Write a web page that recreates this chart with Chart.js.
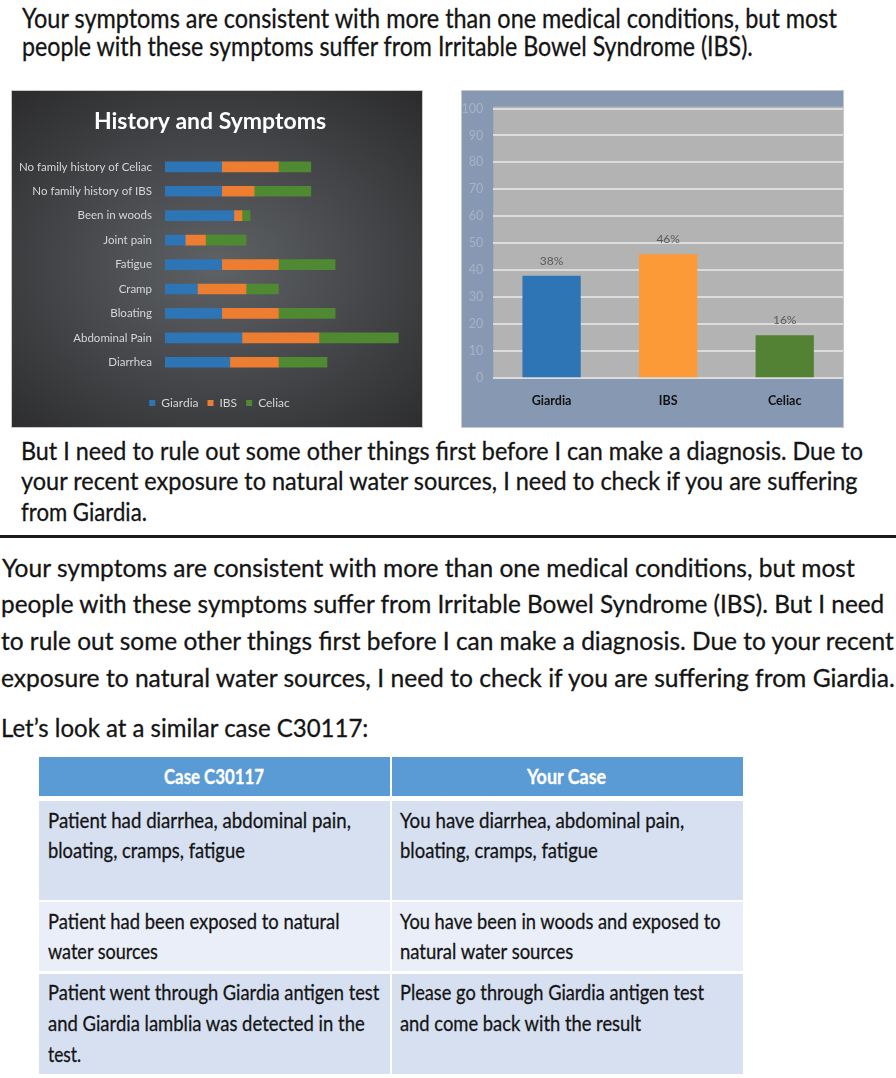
<!DOCTYPE html>
<html>
<head>
<meta charset="utf-8">
<title>History and Symptoms</title>
<script src="https://cdn.jsdelivr.net/npm/chart.js@4.4.1/dist/chart.umd.min.js"></script>
<style>
  body { margin: 0; background: #fff; }
  #page { position: relative; width: 896px; height: 1078px; overflow: hidden; font-family: Lato, sans-serif; color: #141414; }
  .ln { position: absolute; white-space: nowrap; line-height: 1.2; transform-origin: 0 0; -webkit-text-stroke: 0.3px currentColor; }
  .box { position: absolute; }
  #historyBox {
    left: 12px; top: 91px; width: 410px; height: 336px;
    background: radial-gradient(ellipse 75% 70% at 50% 52%, #5f6265 0%, #47494c 45%, #2b2b2c 100%);
    outline: 1px solid #c8c8c8;
  }
  #oddsBox {
    left: 462px; top: 91px; width: 381px; height: 336px;
    background: #8799b2;
    outline: 1px solid #c8c8c8;
  }
  .rule { position: absolute; left: 0; top: 535px; width: 896px; height: 3px; background: #1b1b1b; }
  .cell { position: absolute; }
  .head { background: #5b9bd5; }
  .rowA { background: #d6e0f1; }
  .rowB { background: #e9eef8; }
</style>
</head>
<body>
<div id="page">

  <div class="ln" style="left:21.7px;top:1.7px;font-size:27px" data-w="815">Your symptoms are consistent with more than one medical conditions, but most</div>
  <div class="ln" style="left:21.7px;top:30px;font-size:27px" data-w="731">people with these symptoms suffer from Irritable Bowel Syndrome (IBS).</div>

  <div class="box" id="historyBox"><canvas id="historyChart"></canvas></div>
  <div class="box" id="oddsBox"><canvas id="oddsChart"></canvas></div>

  <div class="ln" style="left:20.7px;top:434.8px;font-size:25.5px" data-w="842">But I need to rule out some other things first before I can make a diagnosis. Due to</div>
  <div class="ln" style="left:20.7px;top:465.3px;font-size:25.5px" data-w="837">your recent exposure to natural water sources, I need to check if you are suffering</div>
  <div class="ln" style="left:20.7px;top:496.3px;font-size:25.5px" data-w="126">from Giardia.</div>

  <div class="rule"></div>

  <div class="ln" style="left:1.5px;top:551.5px;font-size:25.5px" data-w="853">Your symptoms are consistent with more than one medical conditions, but most</div>
  <div class="ln" style="left:1px;top:588.3px;font-size:25.5px" data-w="883">people with these symptoms suffer from Irritable Bowel Syndrome (IBS). But I need</div>
  <div class="ln" style="left:0.7px;top:625.1px;font-size:25.5px" data-w="893">to rule out some other things first before I can make a diagnosis. Due to your recent</div>
  <div class="ln" style="left:1px;top:661.8px;font-size:25.5px" data-w="894">exposure to natural water sources, I need to check if you are suffering from Giardia.</div>
  <div class="ln" style="left:1px;top:712.3px;font-size:25.5px" data-w="367">Let’s look at a similar case C30117:</div>

  <!-- case table -->
  <div class="cell head" style="left:39.3px;top:757.3px;width:350.7px;height:38.4px"></div>
  <div class="cell head" style="left:392px;top:757.3px;width:350.7px;height:38.4px"></div>
  <div class="cell rowA" style="left:39.3px;top:800.7px;width:350.7px;height:99px"></div>
  <div class="cell rowA" style="left:392px;top:800.7px;width:350.7px;height:99px"></div>
  <div class="cell rowB" style="left:39.3px;top:901.5px;width:350.7px;height:69.5px"></div>
  <div class="cell rowB" style="left:392px;top:901.5px;width:350.7px;height:69.5px"></div>
  <div class="cell rowA" style="left:39.3px;top:974px;width:350.7px;height:100px"></div>
  <div class="cell rowA" style="left:392px;top:974px;width:350.7px;height:100px"></div>

  <div class="ln" style="left:164.3px;top:764.3px;font-size:20px;font-weight:bold;color:#fff" data-w="100">Case C30117</div>
  <div class="ln" style="left:526.7px;top:764.3px;font-size:20px;font-weight:bold;color:#fff" data-w="79">Your Case</div>

  <div class="ln" style="left:48.3px;top:807.3px;font-size:22px" data-w="303">Patient had diarrhea, abdominal pain,</div>
  <div class="ln" style="left:48.3px;top:836.8px;font-size:22px" data-w="197">bloating, cramps, fatigue</div>
  <div class="ln" style="left:400px;top:807.3px;font-size:22px" data-w="284">You have diarrhea, abdominal pain,</div>
  <div class="ln" style="left:400px;top:836.8px;font-size:22px" data-w="198">bloating, cramps, fatigue</div>

  <div class="ln" style="left:48.3px;top:908px;font-size:22px" data-w="292">Patient had been exposed to natural</div>
  <div class="ln" style="left:48.3px;top:938px;font-size:22px" data-w="110">water sources</div>
  <div class="ln" style="left:400px;top:908px;font-size:22px" data-w="321">You have been in woods and exposed to</div>
  <div class="ln" style="left:400px;top:938px;font-size:22px" data-w="173">natural water sources</div>

  <div class="ln" style="left:48.3px;top:979px;font-size:22px" data-w="331">Patient went through Giardia antigen test</div>
  <div class="ln" style="left:48.3px;top:1009.6px;font-size:22px" data-w="317">and Giardia lamblia was detected in the</div>
  <div class="ln" style="left:48.3px;top:1041.3px;font-size:22px" data-w="33">test.</div>
  <div class="ln" style="left:400px;top:979px;font-size:22px" data-w="304">Please go through Giardia antigen test</div>
  <div class="ln" style="left:400px;top:1009.6px;font-size:22px" data-w="241">and come back with the result</div>
</div>

<script>
// History and Symptoms (stacked horizontal bars)
const symptomLabels = ['No family history of Celiac', 'No family history of IBS', 'Been in woods', 'Joint pain',
    'Fatigue', 'Cramp', 'Bloating', 'Abdominal Pain', 'Diarrhea'];
const giardiaScores = [7, 7, 8.5, 2.5, 7, 4, 7, 9.5, 8];
const ibsScores = [7, 4, 1, 2.5, 7, 6, 7, 9.5, 6];
const celiacScores = [4, 7, 1, 5, 7, 4, 7, 9.8, 6];

// Likelihood of each condition (%)
const conditionLabels = ['Giardia', 'IBS', 'Celiac'];
const likelihoodPct = [38, 46, 16];

Chart.defaults.font.family = 'Lato, sans-serif';

// squeeze each text line to the width it has in the picture
function fitLines() {
    document.querySelectorAll('.ln').forEach(el => {
        el.style.transform = 'none';
        const target = parseFloat(el.dataset.w);
        el.style.transform = 'scaleX(' + (target / el.offsetWidth) + ')';
    });
}
fitLines();
document.fonts.ready.then(fitLines);

// legend in the picture sits a little right of the canvas centre
const legendNudge = {
    id: 'legendNudge',
    afterLayout(chart) {
        chart.legend.left += 19;
    }
};

new Chart(document.getElementById('historyChart'), {
    type: 'bar',
    data: {
        labels: symptomLabels,
        datasets: [
            { label: 'Giardia', data: giardiaScores, backgroundColor: '#2e75b6' },
            { label: 'IBS', data: ibsScores, backgroundColor: '#ed7d31' },
            { label: 'Celiac', data: celiacScores, backgroundColor: '#4f8a32' }
        ]
    },
    options: {
        indexAxis: 'y',
        responsive: true,
        maintainAspectRatio: false,
        animation: false,
        barThickness: 10,
        layout: { padding: { left: 0, right: 14, top: 0, bottom: 8 } },
        scales: {
            x: {
                stacked: true, min: 0, max: 30,
                ticks: { display: false },
                grid: { display: false, drawTicks: false },
                border: { display: false },
                afterFit: (scale) => { scale.height = 13.5; }
            },
            y: {
                stacked: true,
                grid: { display: false, drawTicks: false },
                border: { display: false },
                ticks: { color: '#d6d6d6', font: { size: 11.5 }, padding: 13 },
                afterFit: (scale) => { scale.width = 153; }
            }
        },
        plugins: {
            title: {
                display: true,
                text: 'History and Symptoms',
                color: '#ffffff',
                font: { size: 23, weight: 'bold' },
                padding: { top: 17, bottom: 19 }
            },
            legend: {
                position: 'bottom',
                labels: { color: '#d6d6d6', font: { size: 12 }, boxWidth: 6, boxHeight: 6, padding: 9 }
            },
            tooltip: { enabled: false }
        }
    },
    plugins: [legendNudge]
});

const plotBackground = {
    id: 'plotBackground',
    beforeDraw(chart) {
        const { ctx, chartArea } = chart;
        ctx.save();
        ctx.fillStyle = '#b3b3b3';
        ctx.fillRect(chartArea.left, chartArea.top - 2, chartArea.right - chartArea.left, chartArea.bottom - chartArea.top + 2);
        ctx.restore();
    }
};

// percent label above each bar
const barValueLabels = {
    id: 'barValueLabels',
    afterDatasetsDraw(chart) {
        const ctx = chart.ctx;
        ctx.save();
        ctx.fillStyle = '#5a5a5a';
        ctx.font = '12px Lato, sans-serif';
        ctx.textAlign = 'center';
        ctx.textBaseline = 'middle';
        chart.getDatasetMeta(0).data.forEach((bar, i) => {
            ctx.fillText(likelihoodPct[i] + '%', bar.x, bar.y - 15);
        });
        ctx.restore();
    }
};

new Chart(document.getElementById('oddsChart'), {
    type: 'bar',
    data: {
        labels: conditionLabels,
        datasets: [{
            data: likelihoodPct,
            backgroundColor: ['#2e75b6', '#fb9a37', '#548235'],
            barPercentage: 0.5,
            categoryPercentage: 1
        }]
    },
    options: {
        responsive: true,
        maintainAspectRatio: false,
        animation: false,
        layout: { padding: { left: 0, right: 0, top: 17.3, bottom: 19.5 } },
        scales: {
            x: {
                grid: { display: false, drawTicks: false },
                border: { display: false },
                ticks: { color: '#111111', font: { size: 12.5, weight: 'bold' }, padding: 14.8 },
                afterFit: (scale) => { scale.height = 29.2; }
            },
            y: {
                min: 0, max: 100,
                ticks: { stepSize: 10, color: '#a7b3c5', font: { size: 12.5 }, padding: 10 },
                grid: { color: '#dcdcdc', lineWidth: 2, drawTicks: false },
                border: { display: false },
                afterFit: (scale) => { scale.width = 31.3; }
            }
        },
        plugins: {
            legend: { display: false },
            tooltip: { enabled: false }
        }
    },
    plugins: [plotBackground, barValueLabels]
});
</script>
</body>
</html>
